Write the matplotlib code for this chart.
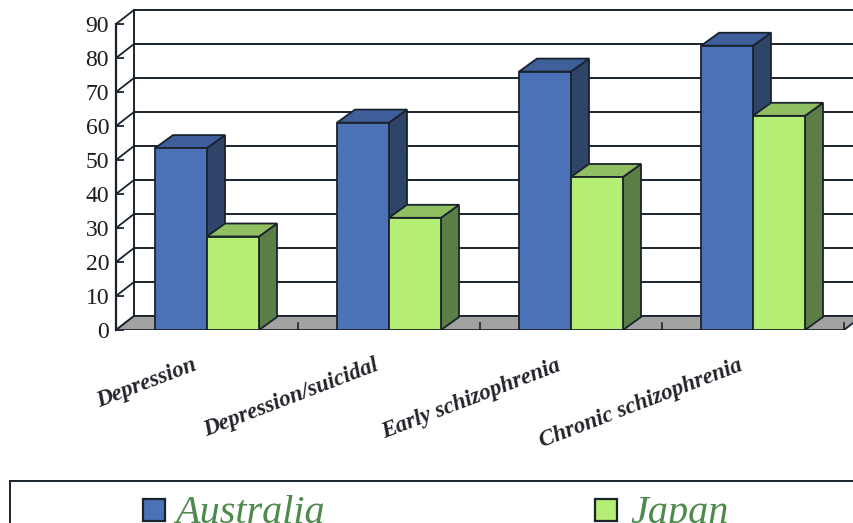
"""Depth-style grouped bar chart comparing Australia and Japan by diagnosis."""
import matplotlib
matplotlib.use("Agg")
import matplotlib.pyplot as plt
from matplotlib.patches import Polygon, Rectangle

categories = ["Depression", "Depression/suicidal", "Early schizophrenia", "Chronic schizophrenia"]
australia = [53.5, 61, 76, 83.6]
japan = [27.5, 33, 45, 63]
y_ticks = [0, 10, 20, 30, 40, 50, 60, 70, 80, 90]

W, H = 854, 523
BAR_W = 52 / 182
DX = 18 / 182   # depth offset in category units
DY = 14 / 3.4   # depth offset in value units
BAR_DY = 13 / 3.4
LINE = "#1a222c"

plt.rcParams["font.family"] = ["Liberation Serif", "DejaVu Serif"]

fig = plt.figure(figsize=(W / 100, H / 100), dpi=100)
ax = fig.add_axes([116 / W, (H - 330) / H, (W - 116) / W, 330 / H])
ax.set_xlim(-0.5, (W - 207) / 182)
ax.set_ylim(0, 330 / 3.4)
for s in ax.spines.values():
    s.set_visible(False)


def poly(pts, color, z):
    ax.add_patch(Polygon(pts, closed=True, facecolor=color, edgecolor=LINE, lw=1.3,
                         joinstyle="miter", zorder=z, clip_on=True))


def bar3d(x0, value, front, side, top, z):
    x1 = x0 + BAR_W
    poly([(x1, 0), (x1 + DX, BAR_DY), (x1 + DX, value + BAR_DY), (x1, value)], side, z)
    poly([(x0, value), (x1, value), (x1 + DX, value + BAR_DY), (x0 + DX, value + BAR_DY)], top, z)
    poly([(x0, 0), (x1, 0), (x1, value), (x0, value)], front, z)


# back wall gridlines and left wall connectors
x_back = -0.5 + DX
x_end = 3.6
for v in y_ticks:
    ax.plot([x_back, x_end], [v + DY, v + DY], color=LINE, lw=1.4, zorder=1)
    ax.plot([-0.5, x_back], [v, v + DY], color=LINE, lw=1.3, zorder=1)
ax.plot([x_back, x_back], [DY, 90 + DY], color=LINE, lw=1.4, zorder=1)
ax.plot([-0.5, -0.5], [0, 90], color=LINE, lw=1.6, zorder=3, clip_on=False)

# floor
n = len(categories)
poly([(-0.5, 0), (n - 0.5, 0), (n - 0.5 + DX, DY), (x_back, DY)], "#a2a2a0", 2)
for i in range(1, n + 1):
    ax.plot([i - 0.5, i - 0.5], [0, 2], color=LINE, lw=1.2, zorder=2.5)

for i in range(n):
    z = 4 + i
    bar3d(i - BAR_W, australia[i], "#4b72b6", "#2f4469", "#3e5f9a", z)
    bar3d(i, japan[i], "#b5ee75", "#5a7e46", "#8fbf60", z + 0.5)

ax.set_yticks(y_ticks)
ax.set_xticks([])
ax.tick_params(axis="y", direction="in", length=6, width=1.3, color=LINE, pad=5,
               labelsize=17, labelcolor="#1c1c1c")

for i, label in enumerate(categories):
    ax.annotate(label, xy=(i, 0), xytext=(-8, -25), textcoords="offset points",
                rotation=21, rotation_mode="anchor", ha="right", va="center",
                fontsize=16.5, fontstyle="italic", fontweight="bold", color="#22242a",
                annotation_clip=False)

# legend box runs past the lower and right edges
fig.add_artist(Rectangle((10 / W, -0.1), 1, (H - 481) / H + 0.1, transform=fig.transFigure,
                         facecolor="white", edgecolor=LINE, lw=1.4))
legend_items = [("Australia", "#4b72b6", 143, 175), ("Japan", "#b5ee75", 595, 630)]
for name, color, box_x, text_x in legend_items:
    fig.add_artist(Rectangle((box_x / W, (H - 521) / H), 22 / W, 22 / H, transform=fig.transFigure,
                             facecolor=color, edgecolor=LINE, lw=1.6))
    fig.text(text_x / W, 0.0, name, fontsize=29, fontstyle="italic", color="#4d8a4c",
             ha="left", va="baseline")

fig.savefig("out.png", dpi=100)
